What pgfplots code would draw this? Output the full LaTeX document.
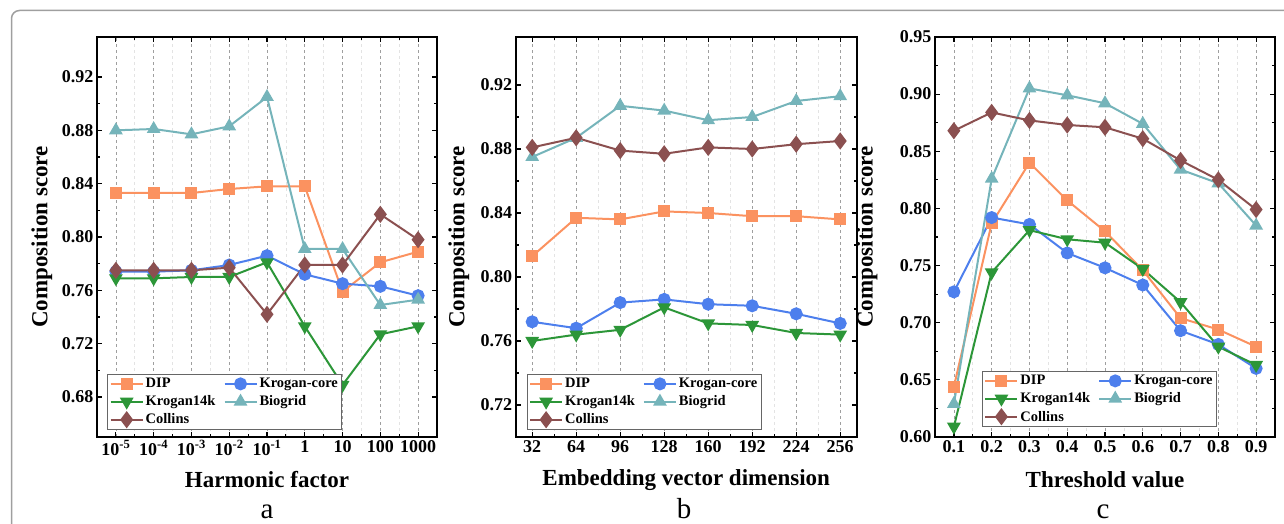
\documentclass[border=0pt]{standalone}
\usepackage{fontspec}
\setmainfont{Liberation Serif}
\usepackage{pgfplots}
\pgfplotsset{compat=1.18}
\definecolor{cDIP}{RGB}{251,146,96}
\definecolor{cKC}{RGB}{77,127,237}
\definecolor{cK14}{RGB}{44,150,56}
\definecolor{cBio}{RGB}{117,180,186}
\definecolor{cCol}{RGB}{139,80,80}
\pgfplotsset{
  panel/.style={
    anchor=south west, scale only axis, height=400pt,
    clip=false,
    axis line style={line width=2pt},
    tick align=inside,
    major tick length=5pt, minor tick length=3pt,
    tick style={black, line width=1.2pt},
    minor tick num=1,
    xmajorgrids, xminorgrids,
    major grid style={dashed, gray!75, line width=0.7pt},
    minor grid style={dashed, gray!22, line width=0.6pt},
    /pgf/number format/assume math mode=true,
    ticklabel style={font=\fontsize{18}{18}\selectfont\bfseries},
    yticklabel={\pgfmathprintnumber[fixed,fixed zerofill,precision=2]{\tick}},
    label style={font=\fontsize{23}{23}\selectfont\bfseries},
    ylabel={Composition score},
    xlabel style={at={(axis description cs:0.5,-0.1075)}, anchor=center},
    legend columns=2,
    legend cell align=left,
    legend style={font=\fontsize{14.5}{15}\selectfont\bfseries, draw=gray!80!black, line width=1pt, fill=white,
      anchor=south west, inner sep=2pt, row sep=2.5pt,
      /tikz/every even column/.append style={column sep=6pt}},
    legend image code/.code={\draw[mark repeat=2,mark phase=2] plot coordinates {(0pt,0pt) (16pt,0pt) (32pt,0pt)};},
    every axis plot/.append style={line width=2pt},
  },
  sDIP/.style={color=cDIP, mark=square*, mark size=5pt, mark options={solid}},
  sKC/.style={color=cKC, mark=*, mark size=5.5pt},
  sK14/.style={color=cK14, mark=triangle*, mark size=6pt, mark options={rotate=180}},
  sBio/.style={color=cBio, mark=triangle*, mark size=6pt},
  sCol/.style={color=cCol, mark=diamond*, mark size=7pt},
}
\begin{document}
\begin{tikzpicture}
\useasboundingbox (0pt,0pt) rectangle (1284pt,524pt);
\draw[gray!75, line width=1.5pt, rounded corners=8pt] (11.5pt,-40pt) -- (11.5pt,513.5pt) -- (1330pt,513.5pt);

% ---------- a ----------
\begin{axis}[panel, at={(97pt,87pt)}, width=340pt,
  xmin=-0.5, xmax=8.5, ymin=0.65, ymax=0.95,
  xtick={0,...,8},
  xticklabels={10\textsuperscript{-5},10\textsuperscript{-4},10\textsuperscript{-3},10\textsuperscript{-2},10\textsuperscript{-1},1,10,100,1000},
  ytick={0.68,0.72,0.76,0.80,0.84,0.88,0.92},
  xlabel={Harmonic factor},
  ylabel style={at={(axis description cs:-0.162,0.5)}, anchor=center},
  legend style={at={(0.03,0.0175)}},
]
\addplot[sDIP] coordinates {(0,0.833)(1,0.833)(2,0.833)(3,0.836)(4,0.838)(5,0.838)(6,0.759)(7,0.781)(8,0.789)};
\addplot[sKC] coordinates {(0,0.774)(1,0.774)(2,0.775)(3,0.779)(4,0.786)(5,0.772)(6,0.765)(7,0.763)(8,0.756)};
\addplot[sK14] coordinates {(0,0.769)(1,0.769)(2,0.770)(3,0.770)(4,0.781)(5,0.733)(6,0.689)(7,0.727)(8,0.733)};
\addplot[sBio] coordinates {(0,0.880)(1,0.881)(2,0.877)(3,0.883)(4,0.905)(5,0.791)(6,0.791)(7,0.749)(8,0.753)};
\addplot[sCol] coordinates {(0,0.775)(1,0.775)(2,0.775)(3,0.777)(4,0.742)(5,0.779)(6,0.779)(7,0.817)(8,0.798)};
\legend{DIP,Krogan-core,Krogan14k,Biogrid,Collins}
\end{axis}

% ---------- b ----------
\begin{axis}[panel, at={(515.7pt,87pt)}, width=341pt,
  xmin=20, xmax=268, ymin=0.70, ymax=0.95,
  xtick={32,64,96,128,160,192,224,256},
  ytick={0.72,0.76,0.80,0.84,0.88,0.92},
  xticklabel={\pgfmathprintnumber{\tick}},
  xlabel={Embedding vector dimension},
  ylabel style={at={(axis description cs:-0.167,0.5)}, anchor=center},
  legend style={at={(0.032,0.0175)}},
]
\addplot[sDIP] coordinates {(32,0.813)(64,0.837)(96,0.836)(128,0.841)(160,0.840)(192,0.838)(224,0.838)(256,0.836)};
\addplot[sKC] coordinates {(32,0.772)(64,0.768)(96,0.784)(128,0.786)(160,0.783)(192,0.782)(224,0.777)(256,0.771)};
\addplot[sK14] coordinates {(32,0.760)(64,0.764)(96,0.767)(128,0.781)(160,0.771)(192,0.770)(224,0.765)(256,0.764)};
\addplot[sBio] coordinates {(32,0.875)(64,0.887)(96,0.907)(128,0.904)(160,0.898)(192,0.900)(224,0.910)(256,0.913)};
\addplot[sCol] coordinates {(32,0.881)(64,0.887)(96,0.879)(128,0.877)(160,0.881)(192,0.880)(224,0.883)(256,0.885)};
\legend{DIP,Krogan-core,Krogan14k,Biogrid,Collins}
\end{axis}

% ---------- c ----------
\begin{axis}[panel, at={(935pt,87pt)}, width=340pt,
  xmin=0.05, xmax=0.95, ymin=0.60, ymax=0.95,
  xtick={0.1,0.2,0.3,0.4,0.5,0.6,0.7,0.8,0.9},
  xticklabel={\pgfmathprintnumber[fixed,precision=1]{\tick}},
  ytick={0.60,0.65,0.70,0.75,0.80,0.85,0.90,0.95},
  xlabel={Threshold value},
  ylabel style={at={(axis description cs:-0.2,0.5)}, anchor=center},
  legend style={at={(0.138,0.025)}},
]
\addplot[sDIP] coordinates {(0.1,0.644)(0.2,0.787)(0.3,0.840)(0.4,0.807)(0.5,0.780)(0.6,0.746)(0.7,0.704)(0.8,0.694)(0.9,0.679)};
\addplot[sKC] coordinates {(0.1,0.727)(0.2,0.792)(0.3,0.786)(0.4,0.761)(0.5,0.748)(0.6,0.733)(0.7,0.693)(0.8,0.681)(0.9,0.660)};
\addplot[sK14] coordinates {(0.1,0.609)(0.2,0.744)(0.3,0.781)(0.4,0.773)(0.5,0.770)(0.6,0.747)(0.7,0.718)(0.8,0.679)(0.9,0.663)};
\addplot[sBio] coordinates {(0.1,0.629)(0.2,0.826)(0.3,0.905)(0.4,0.899)(0.5,0.892)(0.6,0.874)(0.7,0.834)(0.8,0.822)(0.9,0.785)};
\addplot[sCol] coordinates {(0.1,0.868)(0.2,0.884)(0.3,0.877)(0.4,0.873)(0.5,0.871)(0.6,0.861)(0.7,0.842)(0.8,0.825)(0.9,0.799)};
\legend{DIP,Krogan-core,Krogan14k,Biogrid,Collins}
\end{axis}

\node[anchor=base, font=\fontsize{29}{29}\selectfont] at (267pt,5pt) {a};
\node[anchor=base, font=\fontsize{29}{29}\selectfont] at (684pt,5pt) {b};
\node[anchor=base, font=\fontsize{29}{29}\selectfont] at (1103pt,5pt) {c};
\end{tikzpicture}
\end{document}
